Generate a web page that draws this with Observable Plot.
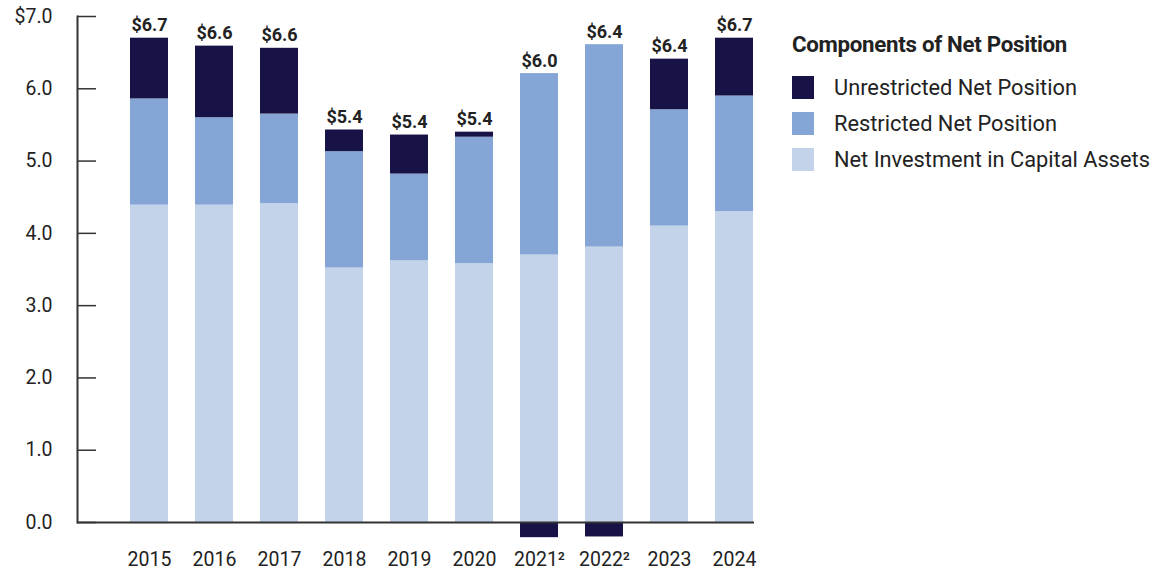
<!DOCTYPE html>
<html><head><meta charset="utf-8">
<script src="https://cdn.jsdelivr.net/npm/d3@7"></script>
<script src="https://cdn.jsdelivr.net/npm/@observablehq/plot@0.6"></script>
<style>
body{margin:0;background:#fff;font-family:Roboto,sans-serif;}
#wrap{position:relative;width:1168px;height:573px;overflow:hidden;}
#legend{position:absolute;left:792px;top:30px;color:#222;}
#legend .title{font-weight:bold;font-size:22.3px;line-height:28px;margin-bottom:11px;letter-spacing:-0.3px;}
#legend .item{display:flex;align-items:center;height:36px;font-size:21.8px;}
#legend .sw{width:22px;height:23px;margin-right:20px;}
</style></head><body>
<div id="wrap"><div id="chart"></div><div id="legend"></div></div>
<script>
const years = ["2015","2016","2017","2018","2019","2020","2021","2022","2023","2024"];
const yearLabels = ["2015","2016","2017","2018","2019","2020","2021²","2022²","2023","2024"];
const netInvestment = [4.39,4.39,4.41,3.52,3.62,3.58,3.70,3.81,4.10,4.30];
const restricted = [1.47,1.21,1.24,1.61,1.20,1.75,2.51,2.80,1.61,1.60];
const unrestricted = [0.84,0.99,0.91,0.30,0.54,0.07,-0.21,-0.20,0.70,0.80];
const totalLabels = ["$6.7","$6.6","$6.6","$5.4","$5.4","$5.4","$6.0","$6.4","$6.4","$6.7"];
const categories = ["Net Investment in Capital Assets","Restricted Net Position","Unrestricted Net Position"];
const colors = ["#c3d4ea","#84a5d5","#181347"];
const legendOrder = ["Unrestricted Net Position","Restricted Net Position","Net Investment in Capital Assets"];
const yTicks = [0,1,2,3,4,5,6,7];

const series = [netInvestment, restricted, unrestricted];
const rows = [];
years.forEach((yr, i) => {
  categories.forEach((c, j) => rows.push({year: yr, cat: c, value: series[j][i]}));
});
const tops = years.map((yr, i) => ({
  year: yr,
  top: series.map(s => s[i]).filter(v => v > 0).reduce((a, b) => a + b, 0),
  label: totalLabels[i]
}));

const chart = Plot.plot({
  width: 1168, height: 573,
  marginLeft: 77, marginRight: 414, marginTop: 16, marginBottom: 51,
  style: {fontFamily: "Roboto, sans-serif", fontSize: "19.5px", color: "#222", background: "#fff"},
  x: {domain: years, range: [128, 755], paddingInner: 0.42, paddingOuter: 0, label: null},
  y: {domain: [0, 7], label: null},
  color: {domain: categories, range: colors},
  marks: [
    Plot.barY(rows, {x: "year", y: "value", fill: "cat", order: categories}),
    Plot.ruleY([0], {stroke: "#333", strokeWidth: 2}),
    Plot.frame({anchor: "left", stroke: "#333", strokeWidth: 2}),
    Plot.axisY({ticks: yTicks, tickFormat: d => d === 7 ? "$7.0" : d.toFixed(1), tickSize: -19, tickPadding: 44, stroke: "#333", strokeWidth: 1.5, label: null}),
    Plot.axisX({tickSize: 0, tickPadding: 30, tickFormat: d => yearLabels[years.indexOf(d)], label: null}),
    Plot.text(tops, {x: "year", y: "top", text: "label", dy: -7, lineAnchor: "bottom", fontWeight: "bold", fontSize: 18, fill: "#222"})
  ]
});
document.getElementById("chart").appendChild(chart);

const legend = document.getElementById("legend");
const t = document.createElement("div"); t.className = "title"; t.textContent = "Components of Net Position"; legend.appendChild(t);
legendOrder.forEach(c => {
  const it = document.createElement("div"); it.className = "item";
  const sw = document.createElement("div"); sw.className = "sw"; sw.style.background = colors[categories.indexOf(c)];
  const lb = document.createElement("span"); lb.textContent = c;
  it.appendChild(sw); it.appendChild(lb); legend.appendChild(it);
});
</script>
</body></html>
